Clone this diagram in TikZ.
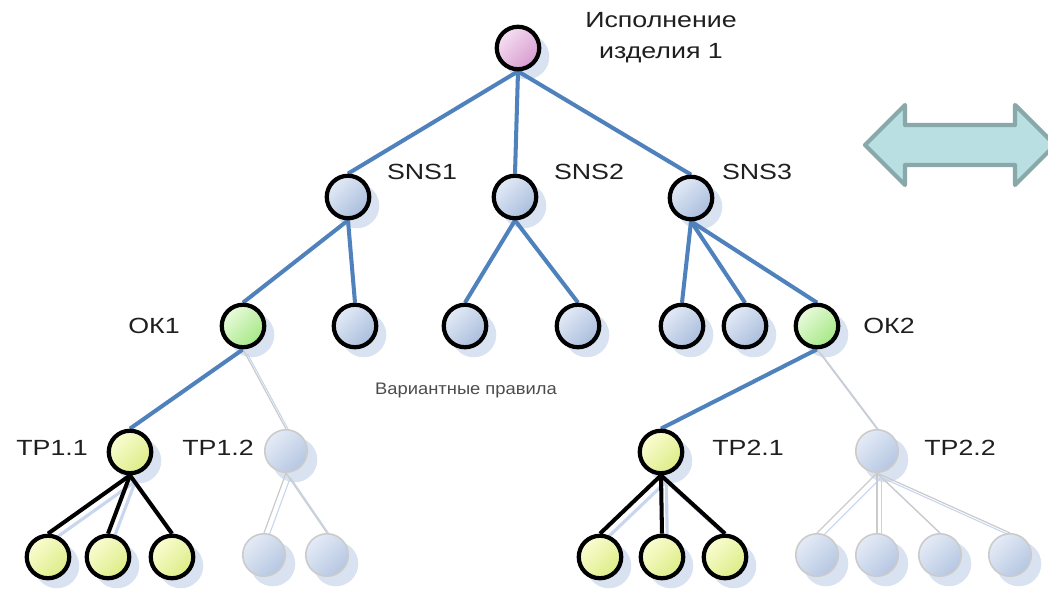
\documentclass[tikz,border=0pt]{standalone}
\usepackage{fontspec}
\setmainfont{Liberation Sans}[FakeStretch=1.22]
\newfontfamily\rulefont{Liberation Sans}[FakeStretch=1.1]
\usetikzlibrary{backgrounds}
\pgfdeclarelayer{shade}
\pgfdeclarelayer{wires}
\pgfsetlayers{shade,wires,main}
\definecolor{linkblue}{HTML}{4F81BD}
\definecolor{shadowblue}{HTML}{D9E2F1}
\definecolor{wireshadow}{HTML}{C9D7EE}
\definecolor{bluehi}{HTML}{E4EBF6}
\definecolor{bluelo}{HTML}{A9BDDD}
\definecolor{pinkhi}{HTML}{F6E0F2}
\definecolor{pinklo}{HTML}{D79BCF}
\definecolor{greenhi}{HTML}{EAFBDD}
\definecolor{greenlo}{HTML}{A4E884}
\definecolor{yellowhi}{HTML}{FAFDD2}
\definecolor{yellowlo}{HTML}{DDEC86}
\definecolor{ghostgray}{HTML}{CBCBCB}
\definecolor{ghostblue}{HTML}{C6D4EE}
\definecolor{arrowfill}{HTML}{B9DFE3}
\definecolor{arrowline}{HTML}{88A8A9}
\begin{document}
\begin{tikzpicture}[x=0.02cm, y=-0.02cm,
        label/.style={font=\fontsize{12.5}{17.6}\selectfont, text=black!88, inner sep=0pt, align=center},
        dot/.style={circle, inner sep=0pt, minimum size=0.85cm, draw=black, line width=2.4pt},
        sns/.style={dot, top color=bluehi, bottom color=bluelo, shading angle=45},
        rootdot/.style={dot, top color=pinkhi, bottom color=pinklo, shading angle=45},
        okdot/.style={dot, top color=greenhi, bottom color=greenlo, shading angle=45},
        tpdot/.style={dot, top color=yellowhi, bottom color=yellowlo, shading angle=45},
        ghostdot/.style={dot, draw=ghostgray, line width=0.9pt, top color=bluehi, bottom color=bluelo!85, shading angle=45},
        link/.style={draw=linkblue, line width=2.3pt},
        blink/.style={draw=black, line width=2.3pt,
            preaction={draw=wireshadow, line width=1.8pt, transform canvas={shift={(3pt,-3.5pt)}}}},
        ghost/.style={draw=ghostgray, line width=0.7pt,
            preaction={draw=ghostblue, line width=0.6pt, transform canvas={shift={(2.5pt,-2.5pt)}}}}
    ]
    \useasboundingbox (0,0) rectangle (1048,590);
    % swap arrow
    \draw[fill=arrowfill, draw=arrowline, line width=2.4pt, line join=round]
        (865,145) -- (905,105) -- (905,125) -- (1015,125) -- (1015,105) -- (1055,145)
        -- (1015,185) -- (1015,165) -- (905,165) -- (905,185) -- cycle;
    % tree
    \node[rootdot] (root) at (518,48) {};
    \node[sns] (sns1) at (348,197) {};
    \node[sns] (sns2) at (515,197) {};
    \node[sns] (sns3) at (691,198) {};
    \node[okdot] (ok1) at (243,326) {};
    \node[sns] (s12) at (355,326) {};
    \node[sns] (s21) at (465,326) {};
    \node[sns] (s22) at (578,326) {};
    \node[sns] (s31) at (682,326) {};
    \node[sns] (s32) at (745,326) {};
    \node[okdot] (ok2) at (817,326) {};
    \node[tpdot] (tp11) at (130,452) {};
    \node[ghostdot] (tp12) at (286,451) {};
    \node[tpdot] (tp21) at (661,452) {};
    \node[ghostdot] (tp22) at (877,451) {};
    \foreach \x [count=\i] in {48,108,172}
        \node[tpdot] (a\i) at (\x,557) {};
    \foreach \x [count=\i] in {264,327}
        \node[ghostdot] (b\i) at (\x,555) {};
    \foreach \x [count=\i] in {600,662,725}
        \node[tpdot] (c\i) at (\x,557) {};
    \foreach \x [count=\i] in {817,877,940,1010}
        \node[ghostdot] (d\i) at (\x,555) {};
    % shadows
    \begin{pgfonlayer}{shade}
    \foreach \n in {root,sns1,sns2,sns3,ok1,s12,s21,s22,s31,s32,ok2,tp11,tp12,tp21,tp22,
                    a1,a2,a3,b1,b2,c1,c2,c3,d1,d2,d3,d4}
        \fill[shadowblue] ([shift={(5pt,-5pt)}]\n.center) circle (0.45cm);
    \end{pgfonlayer}
    % connectors
    \begin{pgfonlayer}{wires}
    \foreach \n in {sns1,sns2,sns3}
        \draw[link] (root.south) -- (\n.north);
    \draw[link] (sns1.south) -- (ok1.north);
    \draw[link] (sns1.south) -- (s12.north);
    \draw[link] (sns2.south) -- (s21.north);
    \draw[link] (sns2.south) -- (s22.north);
    \foreach \n in {s31,s32,ok2}
        \draw[link] (sns3.south) -- (\n.north);
    \draw[link] (ok1.south) -- (tp11.north);
    \draw[ghost] (ok1.south) -- (tp12.north);
    \draw[link] (ok2.south) -- (tp21.north);
    \draw[ghost] (ok2.south) -- (tp22.north);
    \foreach \i in {1,2,3} {
        \draw[blink] (tp11.south) -- (a\i.north);
        \draw[blink] (tp21.south) -- (c\i.north);
    }
    \foreach \i in {1,2}
        \draw[ghost] (tp12.south) -- (b\i.north);
    \foreach \i in {1,...,4}
        \draw[ghost] (tp22.south) -- (d\i.north);
    \end{pgfonlayer}
    % labels
    \node[label] (troot) at (661,38) {Исполнение\\изделия 1};
    \node[label] (tsns1) at (422,172) {SNS1};
    \node[label] (tsns2) at (589,172) {SNS2};
    \node[label] (tsns3) at (757,172) {SNS3};
    \node[label] (tok1) at (154,326) {ОК1};
    \node[label] (tok2) at (889,326) {ОК2};
    \node[label] (ttp11) at (52,448) {ТР1.1};
    \node[label] (ttp12) at (218,448) {ТР1.2};
    \node[label] (ttp21) at (748,448) {ТР2.1};
    \node[label] (ttp22) at (960,448) {ТР2.2};
    \node[label, font=\rulefont\fontsize{9.5}{11}\selectfont, text=black!70] (trules) at (466,390) {Вариантные правила};
\end{tikzpicture}
\end{document}
